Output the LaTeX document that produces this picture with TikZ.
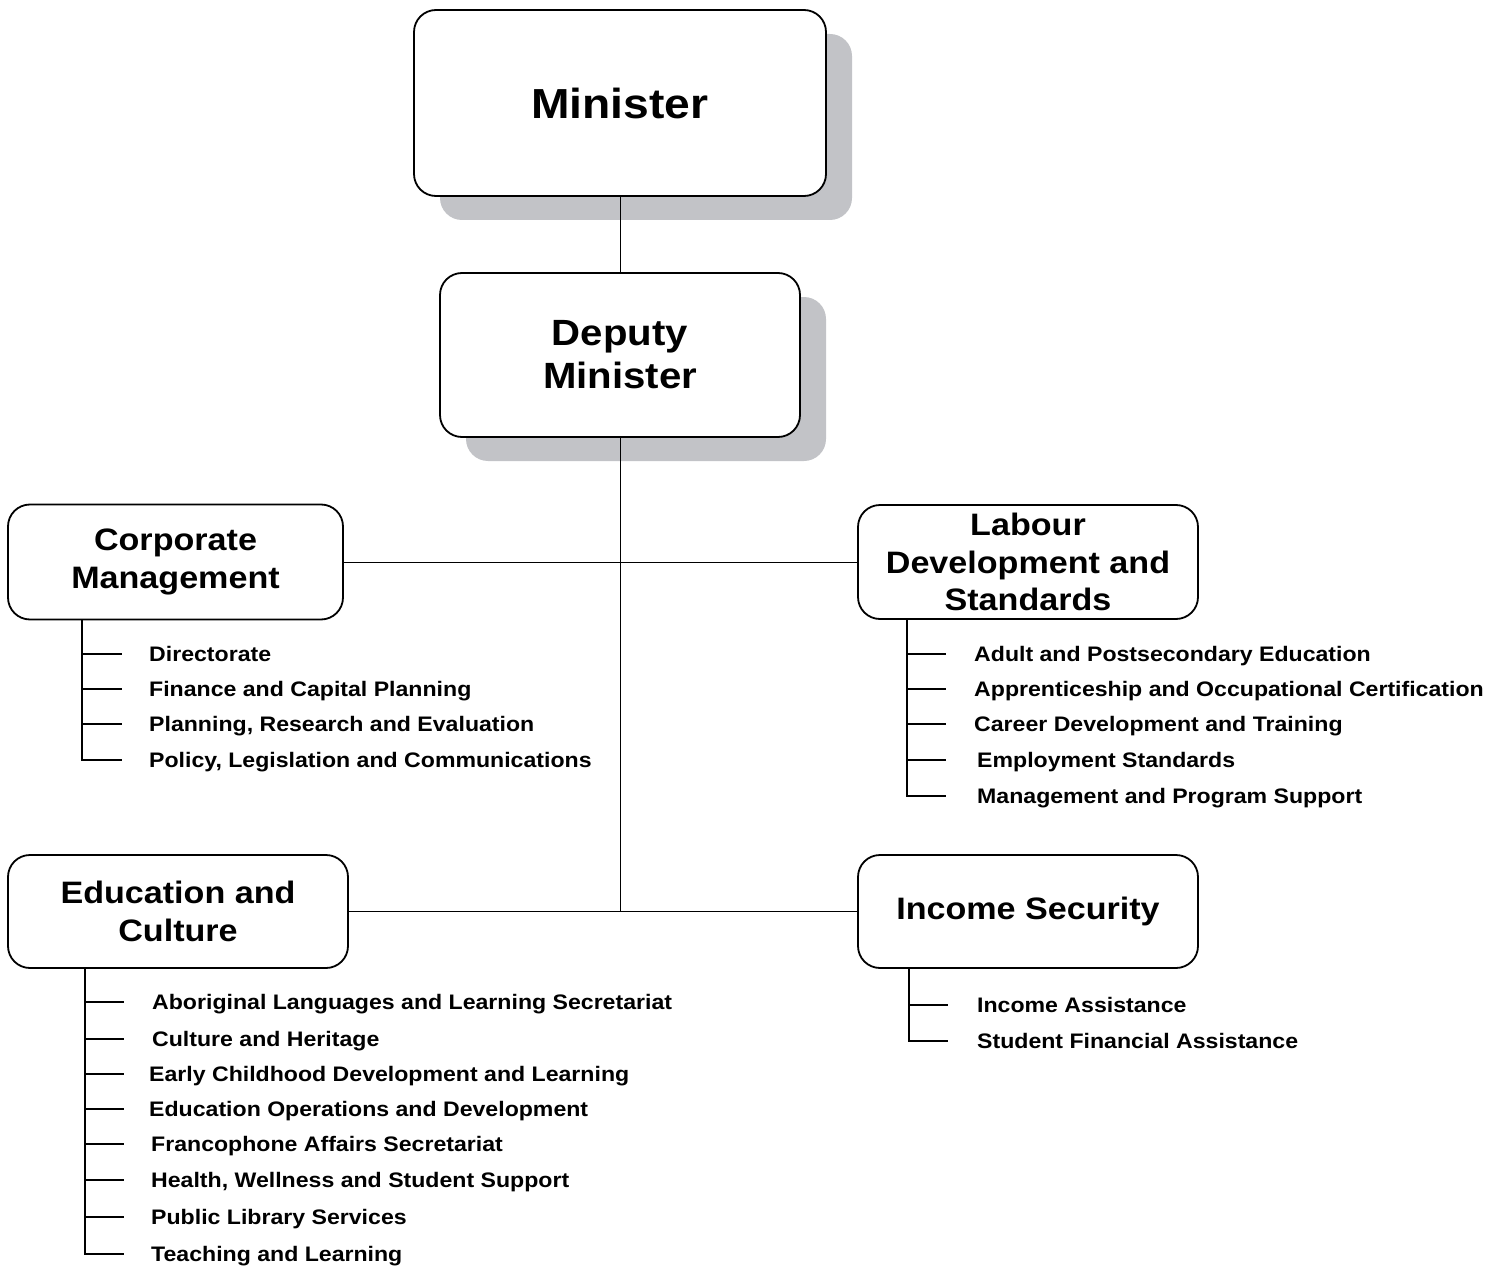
\documentclass[tikz,border=0pt]{standalone}
\usepackage{fontspec}
\setmainfont[FakeStretch=1.1]{Liberation Sans}
\usetikzlibrary{shadows}
\definecolor{shadowgray}{RGB}{194,195,199}
\tikzset{
  box/.style={draw, line width=1.8pt, rounded corners=22pt, fill=white, inner sep=0pt,
    align=center, font=\bfseries\fontsize{31}{37.5}\selectfont},
  shadowed/.style={drop shadow={shadow xshift=26pt, shadow yshift=-24pt, fill=shadowgray, opacity=1}},
  item/.style={anchor=west, inner sep=0pt, text height=15pt, text depth=0pt,
    font=\bfseries\fontsize{21}{25}\selectfont},
  link/.style={line width=1pt},
  tree/.style={line width=1.8pt},
}
\begin{document}
\begin{tikzpicture}[x=1pt, y=-1pt]
    \useasboundingbox (0,0) rectangle (1497,1268);
    % minister and deputy
    \node[box, shadowed, minimum width=412pt, minimum height=186pt,
      font=\bfseries\fontsize{42}{50}\selectfont] (min) at (620,103) {Minister};
    \node[box, shadowed, minimum width=360pt, minimum height=164pt,
      font=\bfseries\fontsize{36.5}{43}\selectfont] (dm) at (620,355) {Deputy\\Minister};

    % divisions
    \node[box, minimum width=335pt, minimum height=115pt] (cm) at (175.5,562) {Corporate\\Management};
    \node[box, minimum width=340pt, minimum height=114pt] (lds) at (1028,562) {Labour\\Development and\\Standards};
    \node[box, minimum width=340pt, minimum height=113pt] (ec) at (178,911.5) {Education and\\Culture};
    \node[box, minimum width=340pt, minimum height=113pt] (is) at (1028,911.5) {Income Security};

    \coordinate (jn) at (620,911.5);
    \draw[link] (min) -- (dm);
    \draw[link] (dm) -- (jn);
    \draw[link] (cm.east) -- (lds.west);
    \draw[link] (ec.east) -- (is.west);

    % corporate management
    \node[item] (cm1) at (149,654) {Directorate};
    \node[item] (cm2) at (149,689) {Finance and Capital Planning};
    \node[item] (cm3) at (149,724) {Planning, Research and Evaluation};
    \node[item] (cm4) at (149,760) {Policy, Legislation and Communications};
    \coordinate (cmbar) at (82,619);
    \coordinate (cmtick) at (122,619);
    \draw[tree] (cmbar) -- (cmbar |- cm4.west) -- (cmtick |- cm4.west);
    \draw[tree] (cmbar |- cm1.west) -- (cmtick |- cm1.west);
    \draw[tree] (cmbar |- cm2.west) -- (cmtick |- cm2.west);
    \draw[tree] (cmbar |- cm3.west) -- (cmtick |- cm3.west);

    % labour development and standards
    \node[item] (ld1) at (974,654) {Adult and Postsecondary Education};
    \node[item] (ld2) at (974,689) {Apprenticeship and Occupational Certification};
    \node[item] (ld3) at (974,724) {Career Development and Training};
    \node[item] (ld4) at (977,760) {Employment Standards};
    \node[item] (ld5) at (977,796) {Management and Program Support};
    \coordinate (ldbar) at (907,619);
    \coordinate (ldtick) at (946,619);
    \draw[tree] (ldbar) -- (ldbar |- ld5.west) -- (ldtick |- ld5.west);
    \draw[tree] (ldbar |- ld1.west) -- (ldtick |- ld1.west);
    \draw[tree] (ldbar |- ld2.west) -- (ldtick |- ld2.west);
    \draw[tree] (ldbar |- ld3.west) -- (ldtick |- ld3.west);
    \draw[tree] (ldbar |- ld4.west) -- (ldtick |- ld4.west);

    % education and culture
    \node[item] (ec1) at (152,1002) {Aboriginal Languages and Learning Secretariat};
    \node[item] (ec2) at (152,1039) {Culture and Heritage};
    \node[item] (ec3) at (149,1074) {Early Childhood Development and Learning};
    \node[item] (ec4) at (149,1109) {Education Operations and Development};
    \node[item] (ec5) at (151,1144) {Francophone Affairs Secretariat};
    \node[item] (ec6) at (151,1180) {Health, Wellness and Student Support};
    \node[item] (ec7) at (151,1217) {Public Library Services};
    \node[item] (ec8) at (151,1254) {Teaching and Learning};
    \coordinate (ecbar) at (85,968);
    \coordinate (ectick) at (124,968);
    \draw[tree] (ecbar) -- (ecbar |- ec8.west) -- (ectick |- ec8.west);
    \draw[tree] (ecbar |- ec1.west) -- (ectick |- ec1.west);
    \draw[tree] (ecbar |- ec2.west) -- (ectick |- ec2.west);
    \draw[tree] (ecbar |- ec3.west) -- (ectick |- ec3.west);
    \draw[tree] (ecbar |- ec4.west) -- (ectick |- ec4.west);
    \draw[tree] (ecbar |- ec5.west) -- (ectick |- ec5.west);
    \draw[tree] (ecbar |- ec6.west) -- (ectick |- ec6.west);
    \draw[tree] (ecbar |- ec7.west) -- (ectick |- ec7.west);

    % income security
    \node[item] (is1) at (977,1005) {Income Assistance};
    \node[item] (is2) at (977,1041) {Student Financial Assistance};
    \coordinate (isbar) at (909,968);
    \coordinate (istick) at (948,968);
    \draw[tree] (isbar) -- (isbar |- is2.west) -- (istick |- is2.west);
    \draw[tree] (isbar |- is1.west) -- (istick |- is1.west);
\end{tikzpicture}
\end{document}
